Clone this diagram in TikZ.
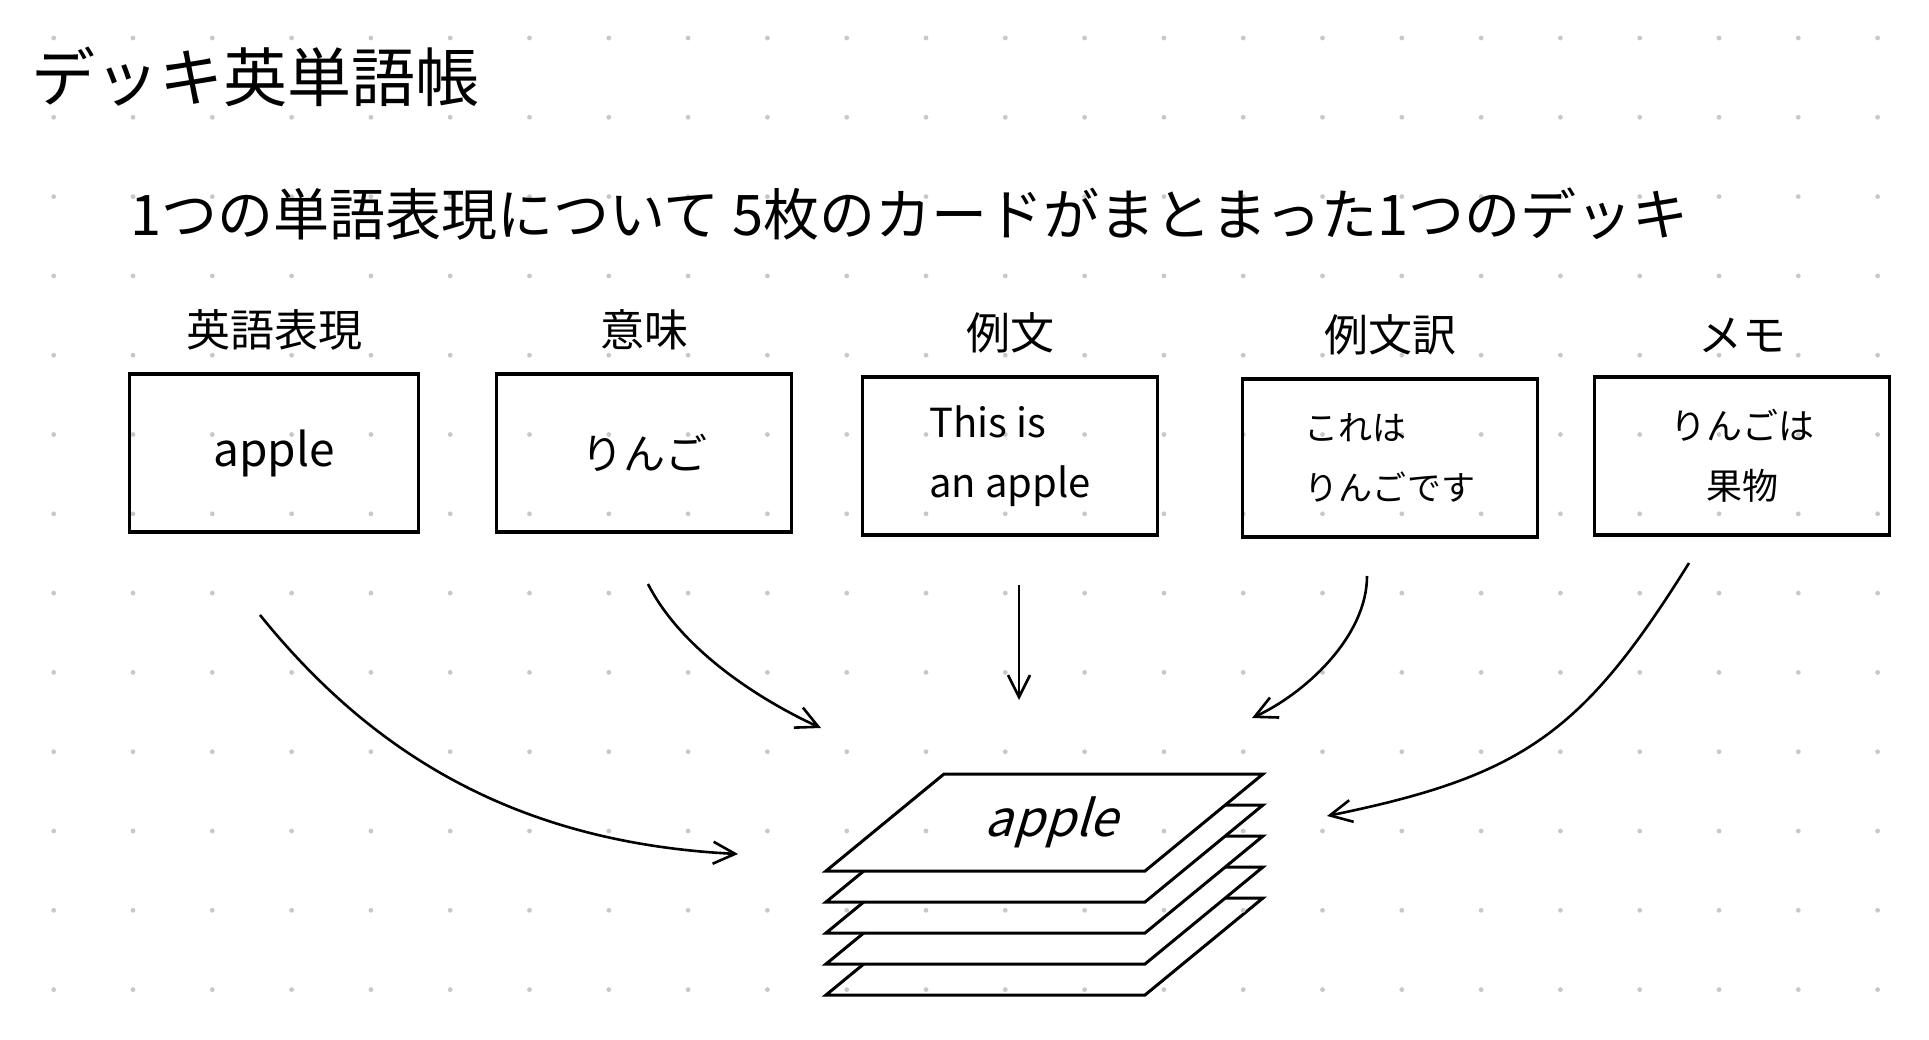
\documentclass[tikz,border=0pt]{standalone}
\usepackage{fontspec}
\setmainfont{Noto Sans CJK JP}
\newfontfamily\slantjp[FakeSlant=0.3]{Noto Sans CJK JP}
\usetikzlibrary{arrows.meta}

\definecolor{dotgray}{RGB}{200,200,200}
\tikzset{
  card/.style={draw, line width=3.2pt, minimum width=295pt, minimum height=158pt, inner sep=0pt, font=\fontsize{40}{60}\selectfont},
  cardtitle/.style={inner sep=0pt, font=\fontsize{44}{50}\selectfont},
  deckcard/.style={draw, fill=white, line width=3pt, line join=miter},
  flow/.style={line width=2.6pt, -{Straight Barb[length=22pt,width=22pt]}},
}

\begin{document}
\begin{tikzpicture}[x=1pt, y=-1pt, label distance=22pt]
\useasboundingbox (0,0) rectangle (1929,1040);

\foreach \k in {4,...,0}
  \draw[deckcard] (826,871+31*\k) -- (1145,871+31*\k) -- (1263,774+31*\k) -- (944,774+31*\k) -- cycle;

\foreach \i in {0,...,23}
  \foreach \j in {0,...,12}
    \fill[dotgray] (53.7+79.3*\i, 38+79.3*\j) circle (2.4);

\node[inner sep=0pt, anchor=west, font=\fontsize{64}{70}\selectfont] (title) at (31,77) {デッキ英単語帳};
\node[inner sep=0pt, anchor=west, font=\fontsize{56}{60}\selectfont] (lead) at (130,214) {1つの単語表現について 5枚のカードがまとまった1つのデッキ};

\node[card, minimum width=289pt, font=\fontsize{46}{50}\selectfont, label={[cardtitle]above:英語表現}] (eigo) at (274,453) {apple};
\node[card, font=\fontsize{42}{50}\selectfont, label={[cardtitle]above:意味}] (imi) at (644,453) {りんご};
\node[card, align=left, label={[cardtitle]above:例文}] (reibun) at (1010,456) {This is\\an apple};
\node[card, align=left, font=\fontsize{34}{60}\selectfont, label={[cardtitle]above:例文訳}] (yaku) at (1390,458) {これは\\りんごです};
\node[card, align=center, font=\fontsize{36}{60}\selectfont, label={[cardtitle]above:メモ}] (memo) at (1742,456) {りんごは\\果物};

\node[font=\slantjp\fontsize{50}{50}\selectfont] (word) at (1051,822) {apple};

\coordinate (eigo-out) at (260,615);
\coordinate (imi-out) at (648,584);
\coordinate (reibun-out) at (1019,585);
\coordinate (yaku-out) at (1367,576);
\coordinate (memo-out) at (1689,563);
\coordinate (eigo-in) at (738,854);
\coordinate (imi-in) at (821,728);
\coordinate (reibun-in) at (1019,700);
\coordinate (yaku-in) at (1252,718);
\coordinate (memo-in) at (1327,816);

\draw[flow] (eigo-out) .. controls (373,755) and (518,843) .. (eigo-in);
\draw[flow] (imi-out) .. controls (682,651) and (762,701) .. (imi-in);
\draw[flow] (reibun-out) -- (reibun-in);
\draw[flow] (yaku-out) .. controls (1367,636) and (1306,693) .. (yaku-in);
\draw[flow] (memo-out) .. controls (1583,733) and (1523,776) .. (memo-in);
\end{tikzpicture}
\end{document}
